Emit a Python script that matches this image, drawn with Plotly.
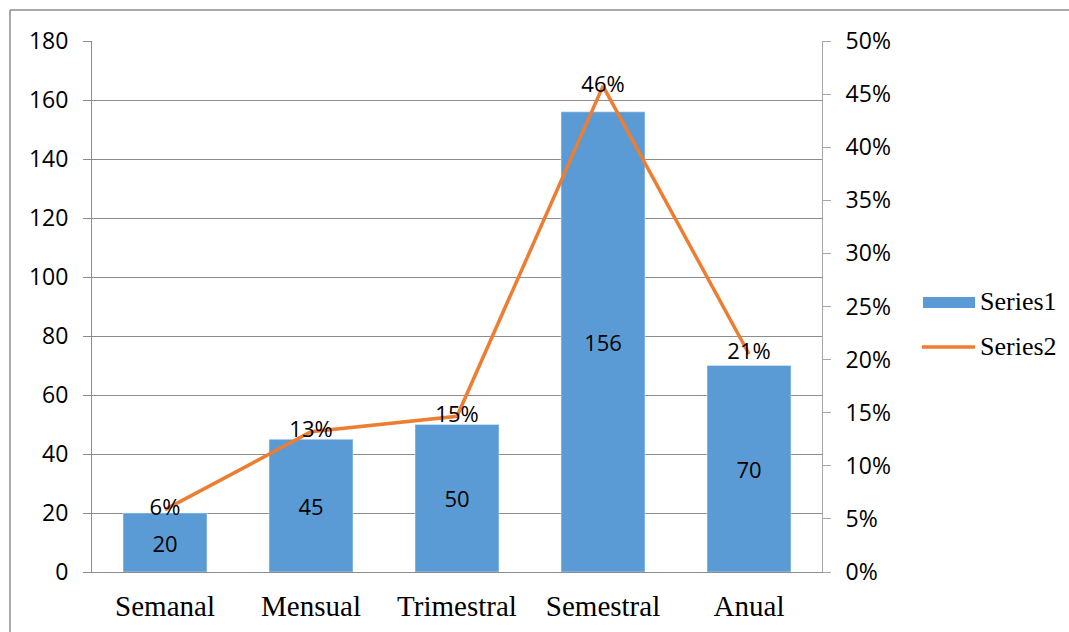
import plotly.graph_objects as go

categories = ["Semanal", "Mensual", "Trimestral", "Semestral", "Anual"]
series1 = [20, 45, 50, 156, 70]
series2 = [0.0587, 0.132, 0.1466, 0.4575, 0.2053]
series2_labels = ["6%", "13%", "15%", "46%", "21%"]

BAR = "#5B9BD5"
LINE = "#ED7D31"
GRID = "#8C8C8C"
SANS = "Open Sans"
SERIF = "Liberation Serif"

fig = go.Figure()
fig.add_trace(go.Bar(
    x=categories, y=series1, name="Series1", marker_color=BAR,
    text=[str(v) for v in series1], textposition="inside",
    insidetextanchor="middle", textangle=0,
    textfont=dict(family=SANS, size=22, color="black"),
    showlegend=False,
))
fig.add_trace(go.Scatter(
    x=categories, y=series2, name="Series2", yaxis="y2",
    mode="lines+text", line=dict(color=LINE, width=3.5),
    text=series2_labels, textposition="middle center",
    textfont=dict(family=SANS, size=22, color="black"),
    showlegend=False, cliponaxis=False,
))

L, R, T, B = 92, 247, 41, 60
W, H = 1069, 632
pw = W - L - R
ph = H - T - B

def px_x(p):
    return (p - L) / pw

def px_y(p):
    return (H - B - p) / ph

shapes = [
    dict(type="line", xref="paper", yref="paper", x0=px_x(10), x1=px_x(1200),
         y0=px_y(10), y1=px_y(10), line=dict(color="#8C8C8C", width=1.5)),
    dict(type="line", xref="paper", yref="paper", x0=px_x(10), x1=px_x(10),
         y0=px_y(10), y1=px_y(800), line=dict(color="#8C8C8C", width=1.5)),
    dict(type="rect", xref="paper", yref="paper", x0=px_x(923), x1=px_x(975),
         y0=px_y(308), y1=px_y(297), fillcolor=BAR, line=dict(width=0)),
    dict(type="line", xref="paper", yref="paper", x0=px_x(922), x1=px_x(975),
         y0=px_y(347), y1=px_y(347), line=dict(color=LINE, width=3.5)),
]
annotations = [
    dict(xref="paper", yref="paper", x=px_x(978), y=px_y(301), text="Series1",
         showarrow=False, xanchor="left", yanchor="middle",
         font=dict(family=SERIF, size=26, color="black")),
    dict(xref="paper", yref="paper", x=px_x(978), y=px_y(346), text="Series2",
         showarrow=False, xanchor="left", yanchor="middle",
         font=dict(family=SERIF, size=26, color="black")),
]

fig.update_layout(
    width=W, height=H,
    margin=dict(l=L, r=R, t=T, b=B, pad=0, autoexpand=False),
    paper_bgcolor="white", plot_bgcolor="white",
    bargap=0.425,
    showlegend=False,
    shapes=shapes, annotations=annotations,
    xaxis=dict(
        showgrid=False, showline=True, linecolor=GRID, linewidth=1,
        ticks="", tickfont=dict(family=SERIF, size=29, color="black"),
        ticklabelstandoff=8, automargin=False,
    ),
    yaxis=dict(
        range=[0, 180], dtick=20, showgrid=True, gridcolor=GRID, gridwidth=1,
        showline=True, linecolor=GRID, linewidth=1,
        ticks="outside", ticklen=8, tickcolor=GRID,
        tickfont=dict(family=SANS, size=23, color="black"),
        ticklabelstandoff=10, zeroline=False, automargin=False,
    ),
    yaxis2=dict(
        range=[0, 0.5], dtick=0.05, tickformat=".0%", overlaying="y", side="right",
        showgrid=False, showline=True, linecolor="#A6A6A6", linewidth=1,
        ticks="outside", ticklen=8, tickcolor="#A6A6A6",
        tickfont=dict(family=SANS, size=23, color="black"),
        ticklabelstandoff=10, zeroline=False, automargin=False,
    ),
)

fig.write_html("out.html")
